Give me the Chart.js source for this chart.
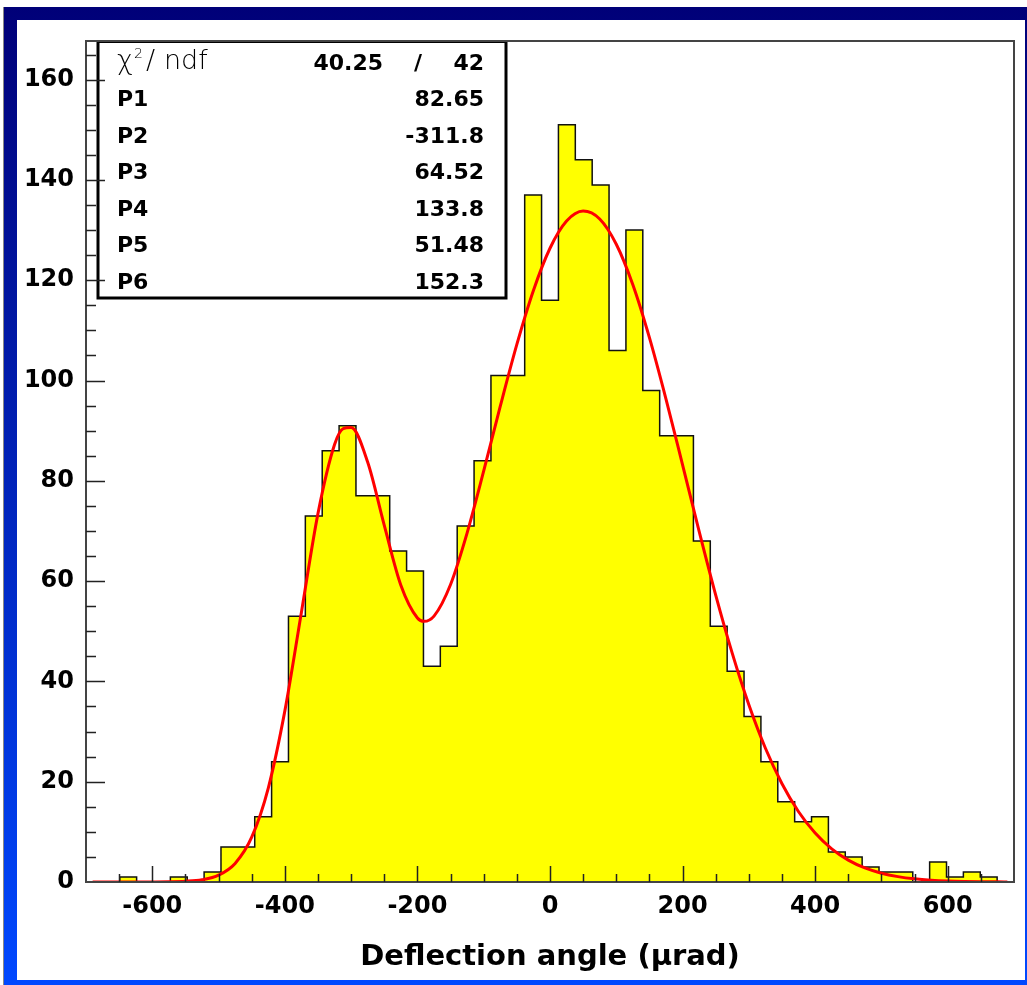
<!DOCTYPE html>
<html>
<head>
<meta charset="utf-8">
<title>Deflection angle</title>
<script src="https://cdn.jsdelivr.net/npm/chart.js@4.4.0/dist/chart.umd.min.js"></script>
<style>
    html, body { margin: 0; padding: 0; background: #fff; }
    #bg {
        position: absolute; left: 3px; top: 7px; width: 1024px; height: 978px;
        box-sizing: border-box; border-left: 1px solid #888;
        background: linear-gradient(to bottom, #000078, #0048ff);
    }
    #panel { position: absolute; left: 17px; top: 20px; width: 1008px; height: 960px; background: #fff; }
    #chart { position: absolute; left: 0; top: 0; }
</style>
</head>
<body>
<div id="bg"></div>
<div id="panel"></div>
<canvas id="chart" width="1027" height="985"></canvas>
<script>
// histogram: 55 bins from -700 to 700 urad
const xMin = -700;
const xMax = 700;
const nBins = 55;
const binCounts = [
    0, 0, 1, 0, 0, 1, 0, 2, 7, 7,
    13, 24, 53, 73, 86, 91, 77, 77, 66, 62,
    43, 47, 71, 84, 101, 101, 137, 116, 151, 144,
    139, 106, 130, 98, 89, 89, 68, 51, 42, 33,
    24, 16, 12, 13, 6, 5, 3, 2, 2, 0,
    4, 1, 2, 1, 0
];

// double gaussian fit curve
const fitX = [-690, -675, -650, -625, -600, -575, -550, -525, -500, -475, -450, -425, -400, -375, -350, -325, -312,
    -300, -275, -250, -225, -200, -190, -175, -150, -125, -100, -75, -50, -25, 0,
    25, 50, 75, 100, 125, 150, 175, 200, 225, 250, 275, 300, 325, 350, 375, 400, 425, 450,
    475, 500, 525, 550, 575, 600, 625, 650, 675, 690];
const fitY = [0, 0, 0, 0.01, 0.02, 0.05, 0.15, 0.46, 1.37, 3.71, 8.93, 18.74, 34.12, 53.81, 73.51, 87.24, 90.41,
    90.61, 83.69, 71.11, 59.19, 52.65, 51.98, 53.02, 59.33, 69.62, 81.97, 94.87, 107.19, 117.95, 126.37,
    131.79, 133.79, 132.21, 127.18, 119.09, 108.54, 96.30, 83.17, 69.92, 57.21, 45.58, 35.34, 26.67, 19.60, 14.01, 9.76, 6.61, 4.36,
    2.80, 1.75, 1.07, 0.63, 0.36, 0.20, 0.11, 0.06, 0.03, 0.02];

// axis ticks
const xTickLabels = [-600, -400, -200, 0, 200, 400, 600];
const yTickLabels = [0, 20, 40, 60, 80, 100, 120, 140, 160];
const xMinorStep = 50;
const yMinorStep = 5;
const yMax = 167.7;

// stats box text
const chi2 = '40.25';
const ndf = '42';
const parNames = ['P1', 'P2', 'P3', 'P4', 'P5', 'P6'];
const parValues = ['82.65', '-311.8', '64.52', '133.8', '51.48', '152.3'];

const binWidth = (xMax - xMin) / nBins;
const histPoints = binCounts.map((c, i) => ({ x: xMin + i * binWidth, y: c }));
histPoints.push({ x: xMax, y: 0 });
const fitPoints = fitX.map((x, i) => ({ x: x, y: fitY[i] }));

const boldFont = (size) => 'bold ' + size + 'px "DejaVu Sans"';

// frame, inward ticks (ROOT style) and the fit stats box
const rootFrame = {
    id: 'rootFrame',
    afterDraw(chart) {
        const ctx = chart.ctx;
        const area = chart.chartArea;
        const xs = chart.scales.x;
        const ys = chart.scales.y;
        ctx.save();

        // stats box
        ctx.fillStyle = '#fff';
        ctx.fillRect(98, 41, 408, 257);
        ctx.strokeStyle = '#000';
        ctx.lineWidth = 3;
        ctx.strokeRect(98, 41.5, 408, 256.5);

        ctx.fillStyle = '#000';
        ctx.textBaseline = 'alphabetic';
        ctx.textAlign = 'left';
        ctx.font = '200 27px "DejaVu Sans"';
        ctx.fillText('\u03c7', 117, 69);
        ctx.fillText('/', 146, 69);
        ctx.fillText('ndf', 164, 69);
        ctx.font = '200 14px "DejaVu Sans"';
        ctx.fillText('2', 134, 58);

        ctx.font = boldFont(22);
        ctx.textAlign = 'right';
        ctx.fillText(chi2, 383, 69.5);
        ctx.fillText(ndf, 484, 69.5);
        ctx.textAlign = 'center';
        ctx.fillText('/', 418, 69.5);
        parNames.forEach((name, i) => {
            const y = 106 + i * 36.5;
            ctx.textAlign = 'left';
            ctx.fillText(name, 117, y);
            ctx.textAlign = 'right';
            ctx.fillText(parValues[i], 484, y);
        });

        // frame
        ctx.strokeStyle = '#444';
        ctx.lineWidth = 2;
        ctx.strokeRect(area.left, area.top, area.right - area.left, area.bottom - area.top);

        // ticks pointing into the plot
        ctx.strokeStyle = '#222';
        ctx.lineWidth = 1.5;
        ctx.beginPath();
        for (let v = -650; v <= 650; v += xMinorStep) {
            const px = Math.round(xs.getPixelForValue(v)) + 0.5;
            const len = v % 200 === 0 ? 16 : 8;
            ctx.moveTo(px, area.bottom);
            ctx.lineTo(px, area.bottom - len);
        }
        for (let v = yMinorStep; v < yMax; v += yMinorStep) {
            const py = Math.round(ys.getPixelForValue(v)) + 0.5;
            const len = v % 20 === 0 ? 19 : 10;
            ctx.moveTo(area.left, py);
            ctx.lineTo(area.left + len, py);
        }
        ctx.stroke();
        ctx.restore();
    }
};

new Chart(document.getElementById('chart'), {
    type: 'line',
    data: {
        datasets: [{
            label: 'hist',
            data: histPoints,
            stepped: 'before',
            fill: 'origin',
            backgroundColor: '#ffff00',
            borderColor: '#111',
            borderWidth: 1.5,
            pointRadius: 0,
            order: 2
        }, {
            label: 'fit',
            data: fitPoints,
            borderColor: '#ff0000',
            borderWidth: 3,
            cubicInterpolationMode: 'monotone',
            fill: false,
            pointRadius: 0,
            order: 1
        }]
    },
    options: {
        responsive: false,
        animation: false,
        layout: { padding: { left: 0, top: 41, right: 13, bottom: 0 } },
        plugins: { legend: { display: false }, tooltip: { enabled: false } },
        scales: {
            x: {
                type: 'linear',
                min: xMin,
                max: xMax,
                afterBuildTicks: (s) => { s.ticks = xTickLabels.map(v => ({ value: v })); },
                afterFit: (s) => { s.height = 103; },
                grid: { display: false, drawTicks: false },
                border: { display: false },
                ticks: { padding: 10, color: '#000', font: { family: 'DejaVu Sans', weight: 'bold', size: 24 }, maxRotation: 0, autoSkip: false },
                title: {
                    display: true,
                    text: 'Deflection angle (\u03bcrad)',
                    color: '#000',
                    font: { family: 'DejaVu Sans', weight: 'bold', size: 29 },
                    padding: { top: 0, bottom: 10 }
                }
            },
            y: {
                min: 0,
                max: yMax,
                afterBuildTicks: (s) => { s.ticks = yTickLabels.map(v => ({ value: v })); },
                afterFit: (s) => { s.width = 86; },
                grid: { display: false, drawTicks: false },
                border: { display: false },
                ticks: { padding: 12, color: '#000', font: { family: 'DejaVu Sans', weight: 'bold', size: 24 } }
            }
        }
    },
    plugins: [rootFrame]
});
</script>
</body>
</html>
